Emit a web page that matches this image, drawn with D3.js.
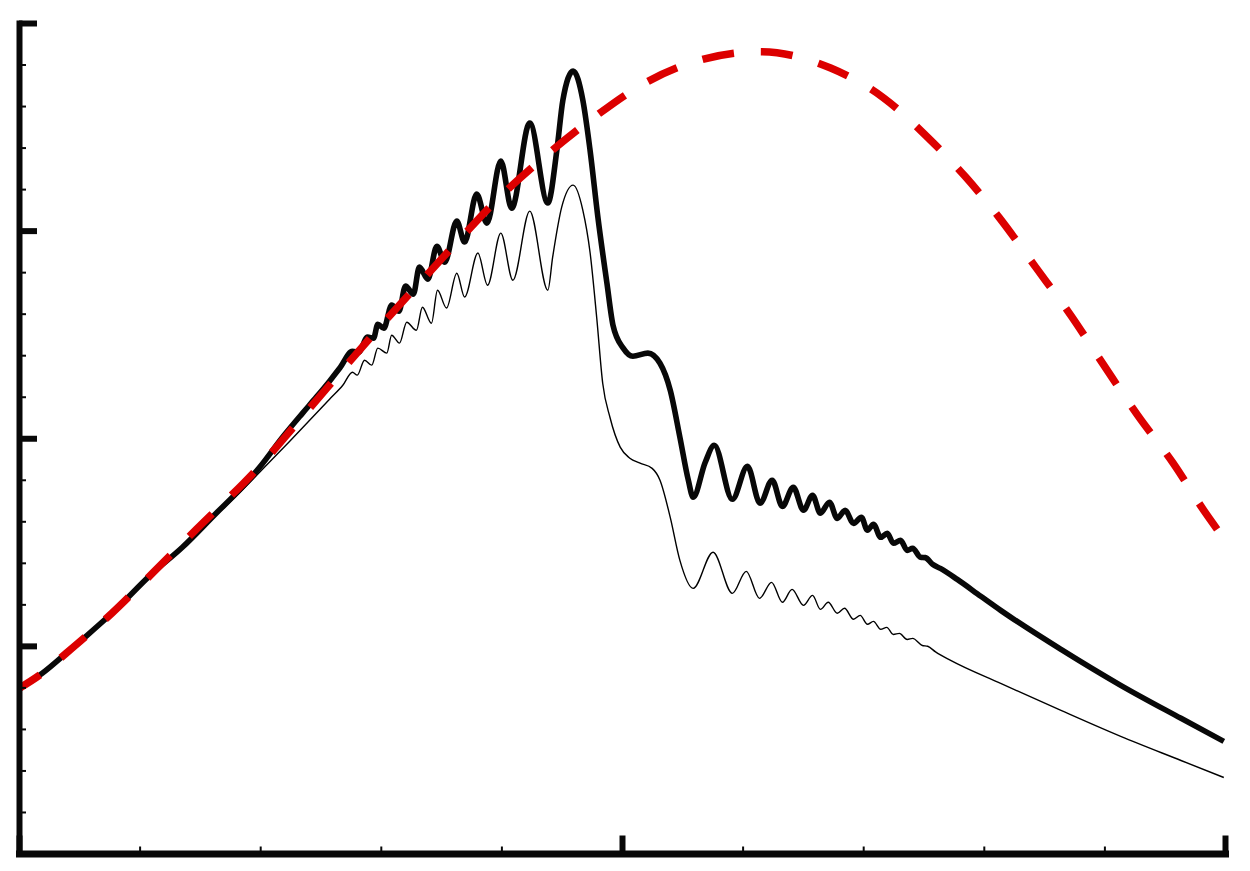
<!DOCTYPE html>
<html>
<head>
<meta charset="utf-8">
<script src="https://cdn.jsdelivr.net/npm/d3@7"></script>
<style>
  html, body { margin: 0; padding: 0; background: #fff; }
  svg { display: block; }
</style>
</head>
<body>
<div id="graph"></div>
<script>
// values, x in [0,2], y in [0,4]
var xMajor = [0, 1, 2];
var xMinor = [0.2, 0.4, 0.6, 0.8, 1.2, 1.4, 1.6, 1.8];
var yMajor = [0, 1, 2, 3, 4];
var yMinor = [0.2, 0.4, 0.6, 0.8, 1.2, 1.4, 1.6, 1.8, 2.2, 2.4, 2.6, 2.8, 3.2, 3.4, 3.6, 3.8];

var dashed = [
  [0, 0.795], [0.038, 0.867], [0.078, 0.964], [0.113, 1.051], [0.154, 1.157],
  [0.221, 1.349], [0.294, 1.561], [0.399, 1.865], [0.465, 2.087], [0.598, 2.535],
  [0.664, 2.747], [0.731, 2.959], [0.797, 3.161], [0.875, 3.364], [0.952, 3.542],
  [1.035, 3.706], [1.130, 3.822], [1.229, 3.862], [1.346, 3.783], [1.434, 3.639],
  [1.508, 3.446], [1.570, 3.258], [1.625, 3.065], [1.686, 2.824], [1.744, 2.593],
  [1.799, 2.352], [1.855, 2.111], [1.914, 1.880], [1.968, 1.639], [1.987, 1.561]
];

var thick = [
  [0, 0.795], [0.038, 0.867], [0.078, 0.964], [0.113, 1.051], [0.154, 1.157],
  [0.221, 1.349], [0.271, 1.475], [0.327, 1.639], [0.365, 1.749], [0.399, 1.860],
  [0.437, 2.005], [0.470, 2.120], [0.493, 2.198], [0.515, 2.275], [0.532, 2.338],
  [0.553, 2.419], [0.563, 2.414], [0.578, 2.487], [0.588, 2.482], [0.595, 2.549],
  [0.605, 2.530], [0.618, 2.641], [0.630, 2.612], [0.641, 2.733],
  [0.654, 2.694], [0.664, 2.824], [0.678, 2.766], [0.693, 2.925], [0.706, 2.848],
  [0.726, 3.046], [0.739, 2.945], [0.759, 3.176], [0.776, 3.036], [0.799, 3.335],
  [0.817, 3.108], [0.847, 3.518], [0.877, 3.133], [0.892, 3.388], [0.902, 3.629],
  [0.919, 3.769], [0.935, 3.629], [0.947, 3.388], [0.960, 3.065], [0.975, 2.747],
  [0.985, 2.545], [1.002, 2.434], [1.018, 2.395], [1.043, 2.410], [1.063, 2.361],
  [1.080, 2.231], [1.096, 2.005], [1.110, 1.798], [1.118, 1.716], [1.138, 1.884],
  [1.153, 1.966], [1.183, 1.706], [1.208, 1.865], [1.229, 1.687], [1.249, 1.798],
  [1.266, 1.672], [1.284, 1.764], [1.301, 1.653], [1.316, 1.725], [1.329, 1.639],
  [1.344, 1.692], [1.357, 1.614], [1.370, 1.653], [1.384, 1.590], [1.397, 1.619],
  [1.407, 1.557], [1.417, 1.586], [1.429, 1.523], [1.440, 1.542], [1.450, 1.494],
  [1.462, 1.508], [1.473, 1.460], [1.482, 1.470], [1.495, 1.427], [1.503, 1.425],
  [1.515, 1.393], [1.528, 1.373], [1.556, 1.320], [1.595, 1.239], [1.628, 1.171],
  [1.728, 0.983], [1.827, 0.810], [1.927, 0.651], [1.998, 0.540]
];

var thin = [
  [0, 0.795], [0.038, 0.867], [0.078, 0.964], [0.113, 1.051], [0.154, 1.152],
  [0.221, 1.345], [0.271, 1.470], [0.327, 1.629], [0.365, 1.735], [0.399, 1.836],
  [0.449, 1.986], [0.493, 2.120], [0.515, 2.188], [0.537, 2.255], [0.553, 2.318],
  [0.561, 2.304], [0.573, 2.376], [0.585, 2.352], [0.595, 2.434], [0.610, 2.410],
  [0.618, 2.496], [0.631, 2.458], [0.643, 2.559], [0.659, 2.520], [0.669, 2.631],
  [0.684, 2.554], [0.694, 2.713], [0.709, 2.627], [0.726, 2.795], [0.739, 2.680],
  [0.761, 2.892], [0.777, 2.737], [0.799, 2.988], [0.819, 2.761], [0.847, 3.094],
  [0.877, 2.713], [0.885, 2.872], [0.900, 3.113], [0.919, 3.219], [0.935, 3.099],
  [0.947, 2.896], [0.958, 2.583], [0.968, 2.265], [0.980, 2.101], [0.997, 1.957],
  [1.013, 1.904], [1.030, 1.880], [1.050, 1.855], [1.063, 1.798], [1.080, 1.619],
  [1.096, 1.412], [1.118, 1.277], [1.151, 1.451], [1.183, 1.253], [1.206, 1.359],
  [1.228, 1.229], [1.248, 1.306], [1.266, 1.210], [1.282, 1.272], [1.301, 1.195],
  [1.316, 1.243], [1.329, 1.176], [1.342, 1.210], [1.357, 1.157], [1.369, 1.181],
  [1.384, 1.128], [1.395, 1.147], [1.407, 1.104], [1.417, 1.118], [1.429, 1.080],
  [1.439, 1.089], [1.450, 1.055], [1.460, 1.060], [1.473, 1.031], [1.482, 1.036],
  [1.498, 1.002], [1.507, 0.998], [1.520, 0.971], [1.545, 0.930], [1.628, 0.819],
  [1.728, 0.689], [1.827, 0.564], [1.927, 0.448], [1.998, 0.366]
];

var width = 1250, height = 871;

var svg = d3.select('#graph').html('')
  .append('svg')
  .attr('width', width)
  .attr('height', height);

var x = d3.scaleLinear().domain([0, 2]).range([19, 1225]);
var y = d3.scaleLinear().domain([0, 4]).range([853.5, 23]);

var line = d3.line()
  .x(function(d) { return x(d[0]); })
  .y(function(d) { return y(d[1]); })
  .curve(d3.curveMonotoneX);

var plot = svg.append('g');

plot.append('path')
  .datum(thin)
  .attr('d', line)
  .attr('fill', 'none')
  .attr('stroke', '#000')
  .attr('stroke-width', 1.4);

plot.append('path')
  .datum(thick)
  .attr('d', line)
  .attr('fill', 'none')
  .attr('stroke', '#080808')
  .attr('stroke-width', 5.6)
  .attr('stroke-linejoin', 'round');

var red = plot.append('path')
  .datum(dashed)
  .attr('d', line)
  .attr('fill', 'none')
  .attr('stroke', '#dc0000')
  .attr('stroke-width', 7.5);

// stretch the dash period a little so the line ends on a whole dash
var dash = 32, offset = 7;
var len = red.node().getTotalLength();
var n = Math.round((len + offset - dash) / 60);
var period = (len + offset - dash) / n;
red.attr('stroke-dasharray', dash + ',' + (period - dash))
  .attr('stroke-dashoffset', offset);

// axes: minor ticks first, then major ticks with the heavy axis line
function styleAxis(g, w, lineW) {
  g.selectAll('text').remove();
  g.selectAll('.tick line').attr('stroke', '#080808').attr('stroke-width', w);
  g.select('.domain').attr('stroke', '#080808').attr('stroke-width', lineW)
    .attr('stroke-linecap', 'square');
}

svg.append('g')
  .attr('transform', 'translate(' + x(0) + ',0)')
  .call(d3.axisLeft(y).tickValues(yMinor).tickSize(-7).tickSizeOuter(0).tickFormat(''))
  .call(styleAxis, 2, 0);

svg.append('g')
  .attr('transform', 'translate(0,' + y(0) + ')')
  .call(d3.axisBottom(x).tickValues(xMinor).tickSize(-7).tickSizeOuter(0).tickFormat(''))
  .call(styleAxis, 2, 0);

svg.append('g')
  .attr('transform', 'translate(' + x(0) + ',0)')
  .call(d3.axisLeft(y).tickValues(yMajor).tickSize(-18).tickSizeOuter(0).tickFormat(''))
  .call(styleAxis, 6, 6);

svg.append('g')
  .attr('transform', 'translate(0,' + y(0) + ')')
  .call(d3.axisBottom(x).tickValues(xMajor).tickSize(-18).tickSizeOuter(0).tickFormat(''))
  .call(styleAxis, 6, 7);
</script>
</body>
</html>
